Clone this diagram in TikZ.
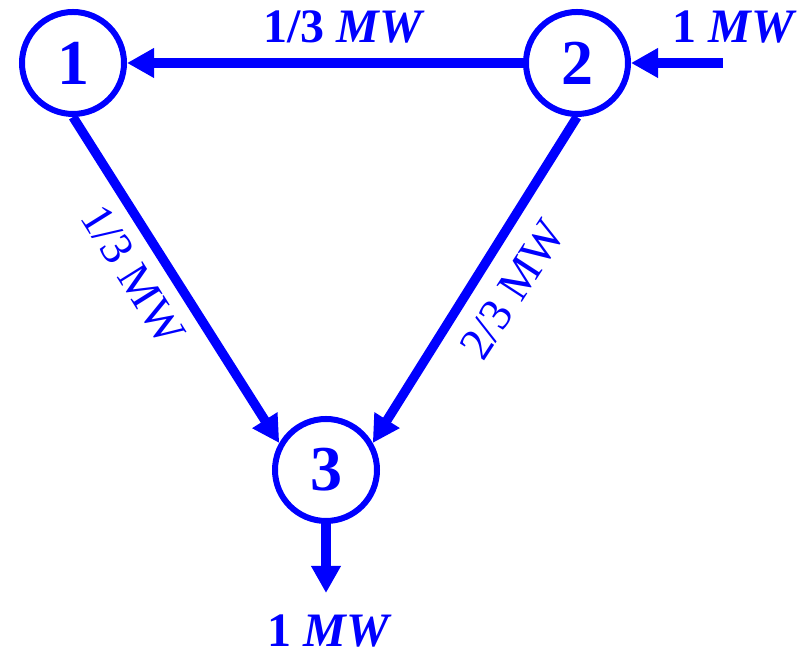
\documentclass[tikz,border=0pt]{standalone}
\usepackage{fontspec}
\setmainfont{Liberation Serif}
\usepackage{xcolor}
\usetikzlibrary{arrows.meta,positioning}
\definecolor{flowblue}{HTML}{0000FF}
\tikzset{
  bus/.style={circle,draw=flowblue,line width=3pt,minimum size=51pt,inner sep=0pt,text=flowblue,font=\fontsize{32}{32}\selectfont\bfseries},
  flow/.style={flowblue,line width=4.7pt,-{Triangle[length=13.5pt,width=14pt]}},
  powerlabel/.style={text=flowblue,font=\fontsize{24}{24}\selectfont\bfseries,inner sep=0pt,anchor=base},
  linelabel/.style={text=flowblue,font=\fontsize{23}{23}\selectfont,inner sep=0pt}
}

\begin{document}
\begin{tikzpicture}[x=0.5pt,y=0.5pt]
\useasboundingbox (0,0) rectangle (809,656);
% buses
\node[bus] (n1) at (73,593) {1};
\node[bus] (n2) at (577,593) {2};
\node[bus] (n3) at (326,186) {3};
\coordinate (in2) at (723,593);
\coordinate (out3) at (326,63);
% power flows
\draw[flow] (n2) -- (n1);
\draw[flow] (in2) -- (n2);
\draw[flow] (n1.south) -- (n3.150);
\draw[flow] (n2.south) -- (n3.30);
\draw[flow] (n3) -- (out3);
% labels
\node[powerlabel] (f21) at (344,613) {1/3 \textit{MW}};
\node[powerlabel] (inj2) at (735,613) {1 \textit{MW}};
\node[powerlabel] (load3) at (330,9) {1 \textit{MW}};
\node[linelabel,rotate=-58] (f13) at (133,381) {1/3 MW};
\node[linelabel,rotate=57] (f23) at (513,366) {2/3 MW};
\end{tikzpicture}
\end{document}
